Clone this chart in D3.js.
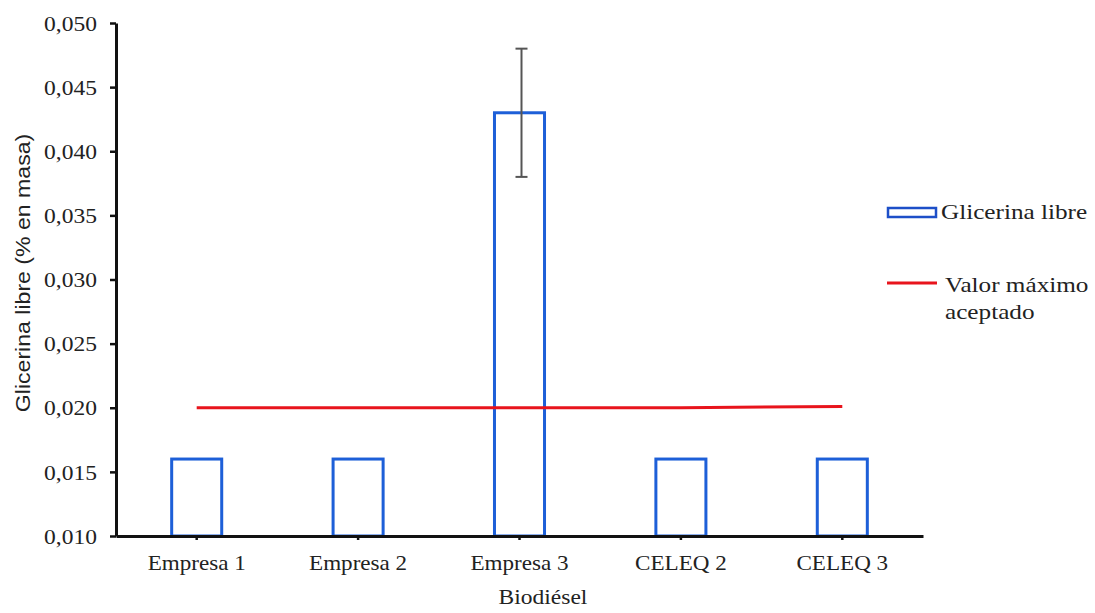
<!DOCTYPE html>
<html>
<head>
<meta charset="utf-8">
<script src="https://d3js.org/d3.v7.min.js"></script>
<style>
  body { margin: 0; background: #fff; }
</style>
</head>
<body>
<svg id="vis"></svg>
<script>
  // data
  var categories = ['Empresa 1', 'Empresa 2', 'Empresa 3', 'CELEQ 2', 'CELEQ 3'];
  var values = [0.016, 0.016, 0.043, 0.016, 0.016];
  var errors = [null, null, 0.005, null, null];
  var limit = [0.020, 0.020, 0.020, 0.020, 0.0201];
  var yTicks = [0.010, 0.015, 0.020, 0.025, 0.030, 0.035, 0.040, 0.045, 0.050];

  var width = 1095, height = 613;
  var mLeft = 116, mRight = 923, mTop = 23, mBottom = 536;
  var sx = 1.12; // reference text is a bit wider than Times
  var serif = '"Liberation Serif", "Times New Roman", serif';

  var svg = d3.select('#vis')
      .attr('width', width)
      .attr('height', height);

  var xscale = d3.scaleBand()
      .domain(categories)
      .range([mLeft, mRight])
      .paddingInner(0.69)
      .paddingOuter(0.345);

  var yscale = d3.scaleLinear()
      .domain([0.010, 0.050])
      .range([mBottom, mTop]);

  var fmt = function(d) { return d3.format('.3f')(d).replace('.', ','); };

  // Bars
  svg.selectAll('rect.bar')
      .data(values)
      .enter().append('rect')
      .attr('class', 'bar')
      .attr('x', function(d, i) { return xscale(categories[i]); })
      .attr('y', function(d) { return yscale(d); })
      .attr('width', xscale.bandwidth())
      .attr('height', function(d) { return yscale(0.010) - yscale(d); })
      .attr('fill', 'none')
      .attr('stroke', '#1d5fd8')
      .attr('stroke-width', 3);

  // Error bars
  var eb = svg.selectAll('g.err')
      .data(values.map(function(v, i) { return {v: v, e: errors[i], c: categories[i]}; })
                  .filter(function(d) { return d.e != null; }))
      .enter().append('g')
      .attr('class', 'err')
      .attr('stroke', '#555')
      .attr('stroke-width', 2);
  eb.append('line')
      .attr('x1', function(d) { return xscale(d.c) + xscale.bandwidth() / 2 + 2; })
      .attr('x2', function(d) { return xscale(d.c) + xscale.bandwidth() / 2 + 2; })
      .attr('y1', function(d) { return yscale(d.v + d.e); })
      .attr('y2', function(d) { return yscale(d.v - d.e); });
  [1, -1].forEach(function(s) {
    eb.append('line')
        .attr('x1', function(d) { return xscale(d.c) + xscale.bandwidth() / 2 - 4; })
        .attr('x2', function(d) { return xscale(d.c) + xscale.bandwidth() / 2 + 8; })
        .attr('y1', function(d) { return yscale(d.v + s * d.e); })
        .attr('y2', function(d) { return yscale(d.v + s * d.e); });
  });

  // Limit line
  var line = d3.line()
      .x(function(d, i) { return xscale(categories[i]) + xscale.bandwidth() / 2; })
      .y(function(d) { return yscale(d); });
  svg.append('path')
      .datum(limit)
      .attr('d', line)
      .attr('fill', 'none')
      .attr('stroke', '#e8141c')
      .attr('stroke-width', 3);

  // Axes
  var yAxis = svg.append('g')
      .attr('transform', 'translate(' + mLeft + ',0)')
      .call(d3.axisLeft(yscale).tickValues(yTicks).tickFormat(fmt).tickSize(6).tickSizeOuter(0));
  var xAxis = svg.append('g')
      .attr('transform', 'translate(0,' + mBottom + ')')
      .call(d3.axisBottom(xscale).tickSize(4).tickSizeOuter(0));

  [yAxis, xAxis].forEach(function(a) {
    a.select('.domain').attr('stroke', '#111').attr('stroke-width', 3);
    a.selectAll('.tick line').attr('stroke', '#111').attr('stroke-width', 2.5);
    a.selectAll('.tick text').attr('font-family', serif)
        .attr('font-size', 21).attr('fill', '#222');
  });
  yAxis.selectAll('.tick text')
      .attr('x', -19 / sx).attr('dy', '0.34em')
      .attr('transform', 'scale(' + sx + ',1)');
  xAxis.selectAll('.tick text')
      .attr('y', 19).attr('dy', '0.71em')
      .attr('transform', 'scale(1.1,1)');

  // Axis titles
  svg.append('text')
      .attr('transform', 'translate(543,604) scale(' + sx + ',1)')
      .attr('text-anchor', 'middle')
      .attr('font-family', serif)
      .attr('font-size', 21)
      .attr('fill', '#222')
      .text('Biodiésel');
  svg.append('text')
      .attr('transform', 'translate(30,273) rotate(-90) scale(1.1,1)')
      .attr('text-anchor', 'middle')
      .attr('font-family', '"Liberation Sans", Arial, sans-serif')
      .attr('font-size', 21)
      .attr('fill', '#222')
      .text('Glicerina libre (% en masa)');

  // Legend
  var lg = svg.append('g')
      .attr('font-family', serif)
      .attr('font-size', 21)
      .attr('fill', '#222');
  lg.append('rect')
      .attr('x', 888).attr('y', 208).attr('width', 48).attr('height', 9)
      .attr('fill', 'none').attr('stroke', '#1d4fc8').attr('stroke-width', 2.5);
  lg.append('text')
      .attr('transform', 'translate(941,219) scale(1.2,1)')
      .text('Glicerina libre');
  lg.append('line')
      .attr('x1', 887).attr('x2', 937).attr('y1', 283).attr('y2', 283)
      .attr('stroke', '#e8141c').attr('stroke-width', 3);
  lg.append('text')
      .attr('transform', 'translate(945,292) scale(1.2,1)')
      .text('Valor máximo');
  lg.append('text')
      .attr('transform', 'translate(945,319) scale(1.2,1)')
      .text('aceptado');
</script>
</body>
</html>
